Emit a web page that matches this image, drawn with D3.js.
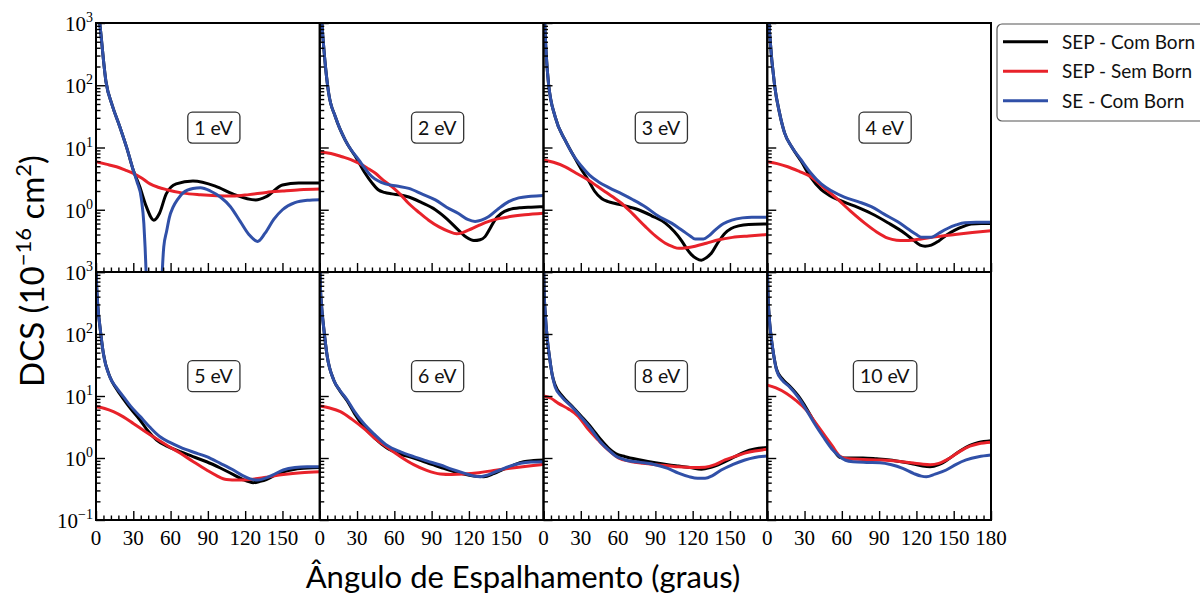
<!DOCTYPE html>
<html>
<head>
<meta charset="utf-8">
<script src="https://cdn.jsdelivr.net/npm/d3@7"></script>
<style>
  body { margin: 0; background: #fff; }
  svg { display: block; }
</style>
</head>
<body>
<svg id="chart" width="1200" height="598"></svg>
<script>
// Panel titles (impact energy) and the three calculations compared
const energies = ["1 eV", "2 eV", "3 eV", "4 eV", "5 eV", "6 eV", "8 eV", "10 eV"];
const seriesNames = ["SEP - Com Born", "SEP - Sem Born", "SE - Com Born"];
const seriesColors = ["#000000", "#e8222a", "#3050a8"];
const xTickValues = [0, 30, 60, 90, 120, 150, 180];
const yTickExponents = [-1, 0, 1, 2, 3];

// DCS in 1e-16 cm^2 versus scattering angle (degrees), one list per energy
const sepComBorn = [
  [[0,3000],[3,1000],[8,115],[13,48],[19,22],[25,9.5],[30,4.3],[35,2.4],[40.5,1.12],[46.5,0.68],[51,0.87],[56.5,1.8],[64.5,2.6],[78,2.9],[96,2.4],[110,1.8],[128.5,1.44],[137,1.63],[150,2.5],[163,2.7],[180,2.7]],
  [[0,3000],[1.9,870],[4.6,200],[7.2,74],[12.6,31],[20.6,13],[30,6.5],[36,4.0],[42,2.7],[47,2.1],[52,1.9],[58,1.8],[65,1.72],[71.6,1.6],[82,1.3],[93,1.0],[102,0.72],[111.6,0.47],[118,0.36],[124,0.32],[129,0.33],[133,0.37],[137,0.5],[141,0.69],[146,0.87],[152,1.0],[162,1.08],[170,1.1],[180,1.12]],
  [[0,3000],[1.3,680],[4,108],[9.4,31],[17.5,13],[24,7.5],[30,4.6],[36,3.0],[41,2.0],[47,1.5],[52,1.35],[57.7,1.26],[66,1.15],[76.4,1.0],[87,0.8],[98,0.61],[105,0.45],[111,0.32],[115,0.24],[119,0.19],[123,0.165],[127,0.155],[131,0.17],[135,0.2],[140,0.29],[146,0.42],[151,0.5],[157,0.55],[165,0.58],[180,0.59]],
  [[0,3000],[1.9,680],[6,96],[10,35],[14,17],[20,10],[27.3,6.0],[35,3.3],[43.4,2.1],[50,1.7],[57,1.45],[70,1.15],[83.7,0.87],[97,0.62],[110.5,0.42],[118,0.32],[123,0.27],[127,0.26],[132,0.27],[137.5,0.31],[144,0.39],[151,0.47],[158,0.54],[164,0.59],[172,0.6],[180,0.6]],
  [[0,1500],[0.5,600],[1.5,280],[3.2,130],[5.9,49],[11.3,20],[16,13.5],[22,9.0],[28,6.2],[35.4,4.1],[42,2.7],[48.8,1.95],[57,1.55],[67.6,1.27],[78,1.05],[89,0.87],[100,0.69],[110.5,0.54],[118,0.45],[126.5,0.40],[132,0.42],[137,0.45],[144,0.53],[150.7,0.6],[160,0.66],[170,0.69],[180,0.7]],
  [[0,1500],[0.5,600],[1.5,280],[3.2,125],[5.9,45],[11.3,18],[16,12.3],[22,8.4],[28,5.2],[35.4,3.2],[44,2.1],[54,1.45],[65,1.15],[75.6,1.0],[86,0.84],[97,0.71],[106,0.62],[116,0.55],[124,0.51],[132,0.5],[140,0.56],[148,0.66],[156,0.77],[164,0.87],[172,0.91],[180,0.93]],
  [[0,1500],[0.5,500],[1.5,200],[3,85],[5,40],[7,22],[9.4,15],[15,10],[22.8,6.9],[30,4.8],[39,3.0],[45,2.1],[52.3,1.45],[58,1.18],[65.7,1.05],[78,0.93],[89.9,0.84],[100,0.78],[108.6,0.74],[118,0.7],[127,0.66],[134,0.7],[140,0.77],[146,0.87],[154,1.05],[162,1.26],[170,1.4],[180,1.48]],
  [[0,1500],[0.5,500],[1.5,200],[3,95],[5,48],[7.5,27],[12,19],[18,14.5],[25,10],[31.6,6.3],[38,3.8],[45,2.35],[52,1.5],[58.5,1.02],[65,1.0],[77,1.0],[88,0.97],[98.7,0.93],[108,0.87],[117.5,0.8],[125,0.74],[131,0.72],[138,0.78],[147,1.0],[155,1.3],[163,1.6],[170,1.78],[180,1.9]]
];

const sepSemBorn = [
  [[0,5.9],[8,5.4],[16.5,4.9],[24,4.3],[30,3.85],[37,3.2],[43.5,2.6],[50,2.3],[57,2.1],[70,1.85],[84,1.74],[97,1.68],[110,1.66],[123,1.75],[137,1.9],[150,2.0],[164,2.1],[180,2.15]],
  [[0,8.5],[9,8.0],[18,7.1],[25,6.4],[31.4,5.6],[38,4.7],[44.8,3.85],[51,3.0],[58,2.35],[65,1.75],[71.6,1.26],[80,0.9],[87.6,0.68],[96,0.53],[103.7,0.45],[110,0.41],[115,0.43],[119.6,0.47],[128,0.56],[136,0.65],[144,0.72],[152,0.77],[165,0.83],[180,0.88]],
  [[0,6.3],[8,5.8],[17.5,4.9],[26,3.9],[36,3.0],[43,2.4],[49.6,1.95],[56,1.6],[63,1.26],[72,0.85],[81.8,0.54],[90,0.38],[98,0.29],[104,0.255],[109,0.24],[115,0.245],[122,0.26],[131,0.29],[141,0.33],[152,0.36],[165,0.38],[180,0.40]],
  [[0,5.9],[8,5.5],[16.5,4.9],[26,4.1],[35,3.4],[45,2.3],[57,1.45],[67,0.95],[78.4,0.61],[88,0.44],[97,0.35],[104,0.325],[110.5,0.32],[117,0.325],[124,0.34],[137,0.37],[151,0.40],[165,0.43],[180,0.46]],
  [[0,6.7],[7,6.3],[14,5.6],[22,4.6],[30,3.6],[38,2.8],[46,2.2],[56,1.65],[67.6,1.2],[78,0.88],[89,0.64],[97,0.52],[105,0.45],[114,0.44],[124,0.45],[137,0.49],[150.7,0.54],[165,0.58],[180,0.6]],
  [[0,6.9],[8,6.4],[16.6,5.6],[26,4.2],[35.4,3.0],[44,2.1],[54,1.5],[65,1.05],[75.6,0.78],[86,0.63],[97,0.55],[106,0.54],[116,0.55],[128,0.58],[140,0.63],[150,0.67],[160,0.71],[170,0.75],[180,0.79]],
  [[0,10],[6,9.2],[12,7.6],[20,6.2],[28,4.7],[36,2.9],[44,1.95],[52,1.35],[60.3,1.0],[70,0.88],[80,0.82],[90,0.78],[100,0.75],[108.6,0.72],[120,0.7],[130,0.71],[138,0.78],[146,0.93],[154,1.06],[162,1.2],[170,1.3],[180,1.38]],
  [[0,15],[7,13.5],[15.5,11],[23,8.5],[31.6,5.9],[38,3.9],[45,2.5],[52,1.6],[58.5,1.07],[65,0.97],[77,0.95],[88,0.93],[98.7,0.91],[108,0.87],[117.5,0.83],[124,0.8],[131,0.78],[138,0.82],[147,1.0],[155,1.28],[163,1.55],[170,1.7],[180,1.8]]
];

const seComBorn = [
  [[0,3000],[3,1000],[8,115],[13,48],[19,22],[25,9.5],[30,4.3],[33,2.8],[36.5,1.5],[38.5,0.6],[39.5,0.25],[40.3,0.1],[41,0.04],[44,0.005],[47,0.002],[50,0.005],[52.5,0.04],[53.3,0.1],[54.5,0.25],[56.8,0.45],[59,0.75],[62,1.1],[66,1.5],[70,1.87],[78,2.2],[84,2.25],[92,2.0],[100,1.6],[108,1.13],[116,0.65],[123,0.4],[130,0.31],[136,0.42],[143,0.7],[150,1.0],[160,1.3],[170,1.42],[180,1.45]],
  [[0,3000],[1.9,870],[4.6,200],[7.2,74],[12.6,31],[20.6,13],[31.4,6.3],[42,3.4],[52.8,2.6],[62,2.4],[71.6,2.2],[82,1.8],[93,1.44],[102,1.1],[111.6,0.87],[119,0.7],[125,0.65],[130,0.68],[136,0.78],[144,1.05],[152,1.35],[160,1.55],[170,1.65],[180,1.7]],
  [[0,3000],[1.3,680],[4,108],[9.4,31],[17.5,13],[24,7.5],[30.9,4.9],[37,3.6],[44.3,2.8],[53,2.25],[63,1.8],[72,1.45],[81.8,1.12],[92,0.8],[103,0.61],[112,0.46],[118,0.38],[122,0.34],[128.7,0.34],[133,0.38],[138,0.47],[145,0.6],[151.5,0.68],[160,0.74],[167.6,0.76],[180,0.76]],
  [[0,3000],[1.9,680],[6,96],[10,35],[14,17],[20,10],[27.3,6.3],[35,3.9],[43.4,2.6],[52,2.0],[62,1.6],[73,1.35],[83.7,1.12],[94,0.85],[105,0.64],[114,0.48],[120,0.4],[124,0.36],[132,0.36],[138,0.42],[145,0.5],[152,0.57],[159,0.62],[168,0.63],[180,0.63]],
  [[0,1500],[0.5,600],[1.5,280],[3.2,130],[5.9,49],[11.3,20],[16,14],[22,9.8],[28,6.8],[35.4,4.7],[43,3.2],[51.5,2.2],[59,1.8],[67.6,1.5],[78,1.25],[89,1.05],[100,0.82],[110.5,0.64],[118,0.52],[124,0.46],[130,0.44],[134.6,0.46],[142,0.53],[150.7,0.64],[160,0.7],[170,0.72],[180,0.72]],
  [[0,1500],[0.5,600],[1.5,280],[3.2,125],[5.9,45],[11.3,18],[16,12.5],[22,8.7],[28,5.6],[35.4,3.6],[44,2.4],[54,1.6],[65,1.25],[75.6,1.05],[86,0.9],[97,0.77],[106,0.66],[116,0.57],[123,0.52],[129,0.5],[136,0.54],[145,0.64],[153,0.74],[161.5,0.82],[170,0.86],[180,0.87]],
  [[0,1500],[0.5,500],[1.5,200],[3,85],[5,40],[7,22],[9.4,14],[15,9.5],[22.8,6.7],[30,4.6],[38.9,2.8],[45,1.9],[52.3,1.35],[58,1.08],[65.7,0.93],[78,0.85],[89.9,0.78],[100,0.68],[108.6,0.57],[117,0.5],[124,0.47],[130,0.47],[136,0.52],[143,0.64],[152,0.78],[162,0.93],[170,1.02],[180,1.08]],
  [[0,1500],[0.5,500],[1.5,200],[3,95],[5,48],[7.5,26],[12,18],[18,14],[25,9.5],[31.6,5.9],[38,3.6],[45,2.2],[52,1.4],[58.5,1.05],[63,0.92],[69,0.87],[80,0.85],[90.6,0.84],[100,0.78],[109,0.68],[118,0.56],[124,0.51],[128,0.5],[135,0.55],[144,0.64],[152,0.79],[160,0.93],[170,1.05],[180,1.12]]
];

const seriesData = [sepComBorn, sepSemBorn, seComBorn];

// ---- layout ----
const svg = d3.select("#chart");
const plotLeft = 96, plotRight = 991;
const rowEdges = [[23, 272], [272, 520]];
const nCols = 4;
const panelW = (plotRight - plotLeft) / nCols;
const serif = "'Liberation Serif', 'DejaVu Serif', serif";
const sans = "Lato, 'Open Sans', 'DejaVu Sans', sans-serif";
const sansWeight = 400;

const minorY = [];
yTickExponents.slice(0, -1).forEach(e => {
  for (let m = 2; m <= 9; m++) minorY.push(m * Math.pow(10, e));
});
const minorX = d3.range(0, 181, 6).filter(v => v % 30 !== 0);

energies.forEach((label, i) => {
  const col = i % nCols, row = Math.floor(i / nCols);
  const x0 = plotLeft + col * panelW;
  const [yTop, yBot] = rowEdges[row];

  const x = d3.scaleLinear().domain([0, 180]).range([x0, x0 + panelW]);
  const y = d3.scaleLog().domain([0.1, 1000]).range([yBot, yTop]);

  const g = svg.append("g");
  const clipId = "clip" + i;
  svg.append("clipPath").attr("id", clipId)
    .append("rect").attr("x", x0).attr("y", yTop).attr("width", panelW).attr("height", yBot - yTop);

  // curves
  const line = d3.line().x(d => x(d[0])).y(d => y(d[1])).curve(d3.curveMonotoneX);
  const curves = g.append("g").attr("clip-path", `url(#${clipId})`);
  seriesData.forEach((s, k) => {
    curves.append("path")
      .attr("d", line(s[i]))
      .attr("fill", "none")
      .attr("stroke", seriesColors[k])
      .attr("stroke-width", 3)
      .attr("stroke-linejoin", "round");
  });

  // ticks pointing into the panel
  const yMajor = d3.axisLeft(y).tickValues(yTickExponents.map(e => Math.pow(10, e)))
    .tickSizeInner(-9).tickSizeOuter(0).tickFormat("");
  const yMinor = d3.axisLeft(y).tickValues(minorY).tickSizeInner(-4.5).tickSizeOuter(0).tickFormat("");
  const xMajor = d3.axisBottom(x).tickValues(xTickValues).tickSizeInner(-9).tickSizeOuter(0).tickFormat("");
  const xMinor = d3.axisBottom(x).tickValues(minorX).tickSizeInner(-4.5).tickSizeOuter(0).tickFormat("");

  [[yMajor, `translate(${x0},0)`], [yMinor, `translate(${x0},0)`],
   [xMajor, `translate(0,${yBot})`], [xMinor, `translate(0,${yBot})`]].forEach(([ax, tr]) => {
    const a = g.append("g").attr("transform", tr).call(ax);
    a.select(".domain").remove();
    a.selectAll(".tick line").attr("stroke", "#000").attr("stroke-width", 1.4);
  });

  // frame
  g.append("rect").attr("x", x0).attr("y", yTop).attr("width", panelW).attr("height", yBot - yTop)
    .attr("fill", "none").attr("stroke", "#000").attr("stroke-width", 2);

  // y tick labels on the first column
  if (col === 0) {
    const shown = row === 0 ? yTickExponents.filter(e => e >= 0) : yTickExponents;
    shown.forEach(e => {
      const t = svg.append("text")
        .attr("x", x0 - 3).attr("y", y(Math.pow(10, e)) + 8)
        .attr("text-anchor", "end")
        .attr("font-family", serif).attr("font-size", 21).attr("fill", "#000");
      t.append("tspan").text("10");
      t.append("tspan").attr("dy", -9).attr("font-size", 14)
        .text(e < 0 ? "\u2212" + Math.abs(e) : String(e));
    });
  }

  // x tick labels on the bottom row
  if (row === 1) {
    const shown = col === nCols - 1 ? xTickValues : xTickValues.filter(v => v < 180);
    shown.forEach(v => {
      svg.append("text")
        .attr("x", x(v)).attr("y", yBot + 25)
        .attr("text-anchor", "middle")
        .attr("font-family", serif).attr("font-size", 21).attr("fill", "#000")
        .text(v);
    });
  }

  // energy tag in a rounded box
  const cx = x0 + 0.525 * panelW, cy = yTop + 0.42 * (yBot - yTop);
  const tag = svg.append("g");
  const txt = tag.append("text").attr("x", cx).attr("y", cy + 7)
    .attr("text-anchor", "middle").attr("font-family", sans).attr("font-weight", sansWeight)
    .attr("font-size", 19.5).attr("fill", "#111").text(label);
  const bb = txt.node().getBBox();
  tag.insert("rect", "text")
    .attr("x", bb.x - 6.5).attr("y", cy - 15.5)
    .attr("width", bb.width + 13).attr("height", 31)
    .attr("rx", 4.5).attr("fill", "#fff").attr("stroke", "#333").attr("stroke-width", 1.3);
});

// axis titles
const yTitle = svg.append("text")
  .attr("transform", "translate(44,271) rotate(-90)")
  .attr("text-anchor", "middle").attr("font-family", sans).attr("font-weight", sansWeight)
  .attr("font-size", 33).attr("fill", "#000");
yTitle.append("tspan").text("DCS (10");
yTitle.append("tspan").attr("dy", -13).attr("font-size", 22).text("\u221216");
yTitle.append("tspan").attr("dy", 13).text(" cm");
yTitle.append("tspan").attr("dy", -13).attr("font-size", 22).text("2");
yTitle.append("tspan").attr("dy", 13).text(")");

svg.append("text")
  .attr("x", 523).attr("y", 588)
  .attr("text-anchor", "middle").attr("font-family", sans).attr("font-weight", sansWeight)
  .attr("font-size", 31).attr("fill", "#000")
  .text("Ângulo de Espalhamento (graus)");

// legend
const legend = svg.append("g");
legend.append("rect").attr("x", 997).attr("y", 24).attr("width", 230).attr("height", 97)
  .attr("rx", 5).attr("fill", "#fff").attr("stroke", "#555").attr("stroke-width", 1.2);
seriesNames.forEach((name, k) => {
  const ly = 41.7 + k * 29.5;
  legend.append("line").attr("x1", 1003).attr("x2", 1048).attr("y1", ly).attr("y2", ly)
    .attr("stroke", seriesColors[k]).attr("stroke-width", 3);
  legend.append("text").attr("x", 1062).attr("y", ly + 7)
    .attr("font-family", sans).attr("font-weight", sansWeight)
    .attr("font-size", 19).attr("fill", "#111").text(name);
});
</script>
</body>
</html>
